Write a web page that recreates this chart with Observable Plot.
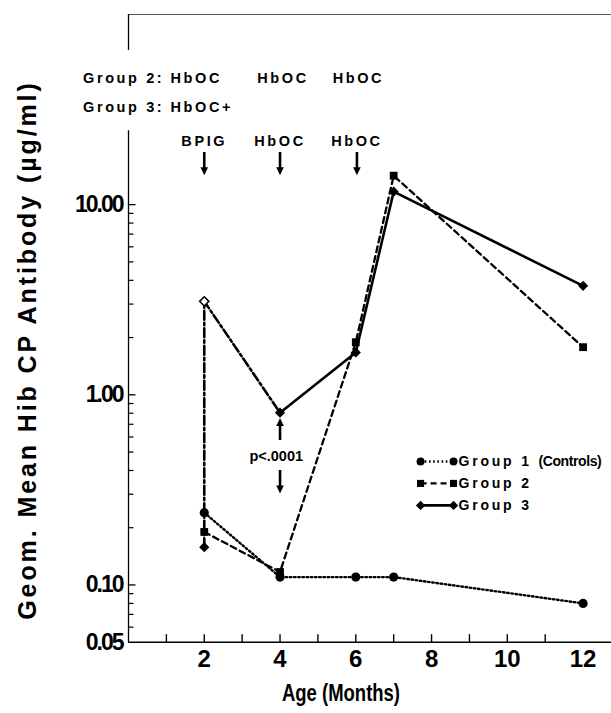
<!DOCTYPE html>
<html><head><meta charset="utf-8">
<script src="https://cdn.jsdelivr.net/npm/d3@7"></script>
<script src="https://cdn.jsdelivr.net/npm/@observablehq/plot@0.6"></script>
<style>
body{margin:0;background:#fff}
svg text{font-family:"Liberation Sans",Arial,sans-serif;font-weight:bold;fill:#000}
</style>
</head><body><div id="chart"></div>
<script>
// ---- data ----
const ages = [2, 4, 6, 7, 12];
const group1 = [0.24, 0.11, 0.11, 0.11, 0.08];      // Group 1 (Controls)
const group2 = [0.19, 0.117, 1.89, 14.2, 1.78];      // Group 2
const group3 = [0.158, 0.805, 1.67, 11.7, 3.74];     // Group 3
const group3AfterBpig = 3.1;                          // Group 3, month 2 after BPIG (open diamond)
const seriesNames = ["Group 1 (Controls)", "Group 2", "Group 3"];

const xTickLabels = [2, 4, 6, 8, 10, 12];
const xMinorTicks = [1, 2, 3, 4, 5, 6, 7, 8, 9, 10, 11];
const yTickLabels = [0.05, 0.1, 1, 10];
const yMajorTicks = [0.1, 1, 10];
const yMinorTicks = [0.06, 0.07, 0.08, 0.09, 0.2, 0.3, 0.4, 0.5, 0.6, 0.7, 0.8, 0.9, 2, 3, 4, 5, 6, 7, 8, 9];
const yLabel = "Geom. Mean Hib CP Antibody (µg/ml)";
const xLabel = "Age (Months)";

const headerTexts = ["Group 2:", "HbOC", "HbOC", "HbOC", "Group 3:", "HbOC+"];
const headerX = [-1.2, 1.11, 3.4, 5.39, -1.2, 1.11];
const headerY = [46, 46, 46, 46, 32.4, 32.4];
const doseTexts = ["BPIG", "HbOC", "HbOC"];
const doseAges = [2, 4, 6.03];
const doseY = 21.5;
const doseArrowY = [18.8, 15.0];
const pText = "p<.0001";
const pPos = [3.9, 0.474];
const pArrowUp = [0.575, 0.72];
const pArrowDown = [0.40, 0.318];
const legendY = [0.446, 0.342, 0.262];
const legendX = [7.71, 8.58, 8.71];
const yAxisGap = [64.7, 24.5];
const yLabelPos = [-2.64, 1.72];

// ---- build tables ----
const rows = (vals) => ages.map((a, i) => ({age: a, value: vals[i]}));
const g1 = rows(group1), g2 = rows(group2), g3 = rows(group3);
const g3dashdot = [{age: 2, value: group3[0]}, {age: 2, value: group3AfterBpig}, {age: 4, value: group3[1]}];
const g3solid = g3.slice(1);
const header = headerTexts.map((t, i) => ({t, x: headerX[i], y: headerY[i]}));
const doses = doseTexts.map((t, i) => ({t, x: doseAges[i], y: doseY}));
const legend = seriesNames.map((n, i) => ({n, y: legendY[i]}));
const arrows = [
  ...doseAges.map(a => ({x: a, y1: doseArrowY[0], y2: doseArrowY[1], dir: 180})),
  {x: 4, y1: pArrowUp[0], y2: pArrowUp[1], dir: 0},
  {x: 4, y1: pArrowDown[0], y2: pArrowDown[1], dir: 180}
];

const hTick = (len) => ({draw(ctx) { ctx.moveTo(0, 0); ctx.lineTo(len, 0); }});
const vTick = (len) => ({draw(ctx) { ctx.moveTo(0, 0); ctx.lineTo(0, -len); }});
const arrowHead = {draw(ctx) { ctx.moveTo(0, -4); ctx.lineTo(3.8, 4); ctx.lineTo(-3.8, 4); ctx.closePath(); }};
const dotted = "1.6,2.6";

const chart = Plot.plot({
  width: 611, height: 713,
  marginLeft: 128, marginRight: 0, marginTop: 14, marginBottom: 71.3,
  style: "background:white;overflow:visible;",
  x: {domain: [0, 12.75], axis: null},
  y: {type: "log", domain: [0.05, 100], axis: null},
  marks: [
    // frame
    Plot.ruleY([100], {stroke: "#555", strokeWidth: 1}),
    Plot.ruleY([0.05], {stroke: "#000", strokeWidth: 1.4}),
    Plot.ruleX([0], {y1: 100, y2: yAxisGap[0], stroke: "#000", strokeWidth: 1.3}),
    Plot.ruleX([0], {y1: yAxisGap[1], y2: 0.05, stroke: "#000", strokeWidth: 1.3}),
    // ticks
    Plot.dot(yMajorTicks, {x: 0, y: d => d, symbol: hTick(7), stroke: "#000", fill: "none", strokeWidth: 1.3}),
    Plot.dot(yMinorTicks, {x: 0, y: d => d, symbol: hTick(5), stroke: "#000", fill: "none", strokeWidth: 1.2}),
    Plot.dot(xMinorTicks, {x: d => d, y: 0.05, symbol: vTick(8), stroke: "#000", fill: "none", strokeWidth: 1.4}),
    Plot.text(yTickLabels, {x: 0, y: d => d, text: d => d3.format(".2f")(d), textAnchor: "end", dx: -6, fontSize: 23}),
    Plot.text(xTickLabels, {x: d => d, y: 0.05, text: d => String(d), lineAnchor: "top", dy: 8, fontSize: 24}),
    Plot.text([yLabel], {x: yLabelPos[0], y: yLabelPos[1], text: d => d, rotate: -90, fontSize: 25}),
    Plot.text([xLabel], {text: d => d, frameAnchor: "bottom", dx: -29, dy: 59, fontSize: 24}),
    // series lines
    Plot.line(g1, {x: "age", y: "value", stroke: "#000", strokeWidth: 2.4, strokeDasharray: dotted}),
    Plot.line(g2, {x: "age", y: "value", stroke: "#000", strokeWidth: 2.3, strokeDasharray: "6,4"}),
    Plot.line(g3dashdot, {x: "age", y: "value", stroke: "#000", strokeWidth: 2.6, strokeDasharray: "9,3,2.5,3"}),
    Plot.line(g3solid, {x: "age", y: "value", stroke: "#000", strokeWidth: 2.6}),
    // markers
    Plot.dot(g1, {x: "age", y: "value", symbol: "circle", r: 4.6, fill: "#000"}),
    Plot.dot(g2, {x: "age", y: "value", symbol: "square", r: 4.4, fill: "#000"}),
    Plot.dot(g3, {x: "age", y: "value", symbol: "diamond2", r: 4.6, fill: "#000"}),
    Plot.dot([group3AfterBpig], {x: 2, y: d => d, symbol: "diamond2", r: 4.2, fill: "#fff", stroke: "#000", strokeWidth: 1.5}),
    // annotations
    Plot.text(header, {x: "x", y: "y", text: "t", textAnchor: "start", fontSize: 14.5}),
    Plot.text(doses, {x: "x", y: "y", text: "t", fontSize: 14.5}),
    Plot.ruleX(arrows, {x: "x", y1: "y1", y2: "y2", stroke: "#000", strokeWidth: 2.6}),
    Plot.dot(arrows, {x: "x", y: "y2", symbol: arrowHead, rotate: "dir", fill: "#000", stroke: "none"}),
    Plot.text([pText], {x: pPos[0], y: pPos[1], text: d => d, fontSize: 14.5}),
    // legend
    Plot.link([legend[0]], {x1: legendX[0], x2: legendX[1], y1: "y", y2: "y", stroke: "#000", strokeWidth: 2.4, strokeDasharray: dotted}),
    Plot.link([legend[1]], {x1: legendX[0], x2: legendX[1], y1: "y", y2: "y", stroke: "#000", strokeWidth: 2.3, strokeDasharray: "6,4"}),
    Plot.link([legend[2]], {x1: legendX[0], x2: legendX[1], y1: "y", y2: "y", stroke: "#000", strokeWidth: 2.6}),
    Plot.dot([legend[0], legend[0]], {x: (d, i) => legendX[i], y: "y", symbol: "circle", r: 4, fill: "#000"}),
    Plot.dot([legend[1], legend[1]], {x: (d, i) => legendX[i], y: "y", symbol: "square", r: 4, fill: "#000"}),
    Plot.dot([legend[2], legend[2]], {x: (d, i) => legendX[i], y: "y", symbol: "diamond2", r: 4.2, fill: "#000"}),
    Plot.text(legend, {x: legendX[2], y: "y", text: "n", textAnchor: "start", fontSize: 14})
  ]
});
document.getElementById("chart").append(chart);

// letter-spacing / condensing by text content (styling only)
const spaced = new Set([...headerTexts, ...doseTexts]);
const legendSet = new Set(seriesNames);
const yTickSet = new Set(yTickLabels.map(d => d3.format(".2f")(d)));
const setLS = (el, ls) => { el.setAttribute("letter-spacing", ls); el.style.letterSpacing = ls + "px"; };
d3.select(chart).selectAll("text").each(function() {
  const s = this.textContent;
  if (spaced.has(s)) setLS(this, 2.6);
  else if (s === yLabel) setLS(this, 2.9);
  else if (s === xLabel) { this.setAttribute("textLength", 118); this.setAttribute("lengthAdjust", "spacingAndGlyphs"); }
  else if (yTickSet.has(s)) setLS(this, -2);
  else if (legendSet.has(s)) {
    const k = s.indexOf(" (");
    if (k < 0) setLS(this, 2.8);
    else {
      const t = d3.select(this);
      t.text(null);
      t.append("tspan").attr("letter-spacing", 2.8).style("letter-spacing", "2.8px").text(s.slice(0, k + 1));
      t.append("tspan").attr("letter-spacing", -0.4).style("letter-spacing", "-0.4px").text(s.slice(k + 1));
    }
  }
});
</script>
</body></html>
